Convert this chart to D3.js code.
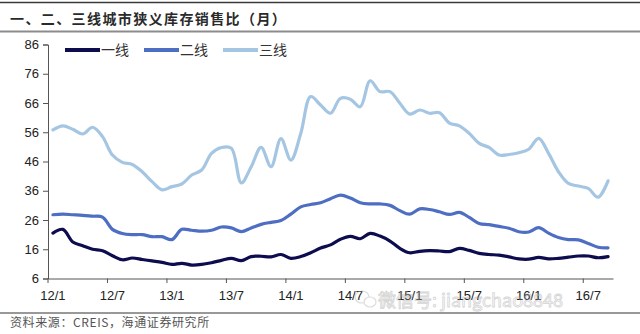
<!DOCTYPE html>
<html>
<head>
<meta charset="utf-8">
<script src="https://cdn.jsdelivr.net/npm/d3@7/dist/d3.min.js"></script>
<style>
  html, body { margin: 0; padding: 0; background: #fff; }
  svg { display: block; }
</style>
</head>
<body>
<svg id="chart" width="640" height="334"></svg>
<script>
const months = [
  "12/1","12/2","12/3","12/4","12/5","12/6","12/7","12/8","12/9","12/10","12/11","12/12",
  "13/1","13/2","13/3","13/4","13/5","13/6","13/7","13/8","13/9","13/10","13/11","13/12",
  "14/1","14/2","14/3","14/4","14/5","14/6","14/7","14/8","14/9","14/10","14/11","14/12",
  "15/1","15/2","15/3","15/4","15/5","15/6","15/7","15/8","15/9","15/10","15/11","15/12",
  "16/1","16/2","16/3","16/4","16/5","16/6","16/7","16/8","16/9"
];
const tier1 = [
  21.5,22.8,18.5,17.2,16.0,15.5,13.8,12.4,13.0,12.5,12.0,11.5,
  10.8,11.2,10.6,10.8,11.4,12.2,12.9,12.1,13.5,13.6,13.4,14.2,
  12.9,13.5,14.8,16.4,17.5,19.4,20.4,19.6,21.4,20.5,18.8,16.3,
  14.8,15.3,15.5,15.4,15.2,16.3,15.6,14.6,14.2,14.0,13.4,12.7,
  12.6,13.2,12.7,12.9,13.3,13.7,13.7,13.1,13.5
];
const tier2 = [
  27.8,28.0,27.8,27.6,27.3,27.0,22.8,21.4,21.0,21.0,20.3,20.3,
  19.3,22.8,22.5,22.2,22.5,23.6,23.3,22.0,23.3,24.5,25.2,25.8,
  28.0,30.5,31.3,31.9,33.3,34.5,33.5,31.9,31.5,31.5,31.0,29.2,
  28.0,29.8,29.6,28.8,27.9,28.6,26.9,24.8,24.4,23.8,23.2,22.0,
  21.9,23.4,21.5,20.0,19.3,19.2,18.0,16.7,16.5
];
const tier3 = [
  56.8,58.2,57.0,55.4,57.7,54.5,48.2,45.7,45.0,42.5,39.1,36.3,
  37.4,38.3,41.4,43.1,48.8,50.8,50.5,38.7,44.2,50.8,44.2,53.8,
  46.5,55.6,68.2,65.3,62.5,67.6,67.3,64.7,73.6,69.9,69.9,65.9,
  62.2,63.6,62.5,62.7,59.1,58.2,55.6,52.2,50.8,48.2,48.4,49.0,
  50.2,53.9,48.8,42.5,38.5,37.6,36.8,33.8,39.4
];
const tickLabels = ["12/1","12/7","13/1","13/7","14/1","14/7","15/1","15/7","16/1","16/7"];
const yTicks = [6,16,26,36,46,56,66,76,86];
const seriesNames = ["一线","二线","三线"];
const seriesColors = ["#0c0c4e","#4d6ec2","#a5c6e3"];

const svg = d3.select("#chart");
const font = "Arial, 'Liberation Sans', sans-serif";
const cjk = "'Noto Sans CJK SC', sans-serif";

// header rules and title
svg.append("line").attr("x1",0).attr("x2",640).attr("y1",2.5).attr("y2",2.5)
  .attr("stroke","#3a3a3a").attr("stroke-width",1.5);
svg.append("line").attr("x1",0).attr("x2",640).attr("y1",31.5).attr("y2",31.5)
  .attr("stroke","#8c8c8c").attr("stroke-width",2);
svg.append("text").attr("x",10).attr("y",24)
  .attr("font-family",cjk).attr("font-size",14).attr("font-weight","bold")
  .attr("letter-spacing",1.4).attr("fill","#2a2a2a")
  .text("一、二、三线城市狭义库存销售比（月）");

const x = d3.scaleBand().domain(months).range([48, 613]).padding(0);
const y = d3.scaleLinear().domain([6, 86]).range([278.5, 44.5]);
const cx = m => x(m) + x.bandwidth() / 2;

// y axis
const yAxis = svg.append("g").attr("transform","translate(48,0)")
  .call(d3.axisLeft(y).tickValues(yTicks).tickSize(5).tickPadding(4).tickFormat(d3.format("d")));
yAxis.select(".domain").attr("stroke","#555").attr("stroke-width",1);
yAxis.selectAll(".tick line").attr("stroke","#555");
yAxis.selectAll("text").attr("font-family",font).attr("font-size",13).attr("fill","#222");

// x axis
const xAxis = svg.append("g").attr("transform","translate(0,278.5)")
  .call(d3.axisBottom(x).tickValues(tickLabels).tickSize(0).tickPadding(0).tickFormat(() => ""));
xAxis.select(".domain").attr("stroke","#555").attr("stroke-width",1);
xAxis.selectAll(".tick line").remove();
xAxis.selectAll(".tick text").remove();
tickLabels.forEach(t => {
  svg.append("line").attr("x1",x(t)).attr("x2",x(t)).attr("y1",278.5).attr("y2",283)
    .attr("stroke","#555");
  svg.append("text").attr("x",cx(t)).attr("y",300).attr("text-anchor","middle")
    .attr("font-family",font).attr("font-size",13).attr("fill","#222").text(t);
});

// lines
const line = d3.line().x((d,i) => cx(months[i])).y(d => y(d)).curve(d3.curveCatmullRom.alpha(0.5));
[tier3, tier2, tier1].forEach((s, k) => {
  const idx = 2 - k;
  svg.append("path").datum(s).attr("d", line).attr("fill","none")
    .attr("stroke", seriesColors[idx]).attr("stroke-width", 3.2)
    .attr("stroke-linejoin","round").attr("stroke-linecap","round");
});

// legend
const legX = [65, 144, 223];
seriesNames.forEach((n, i) => {
  svg.append("line").attr("x1",legX[i]).attr("x2",legX[i]+35).attr("y1",50).attr("y2",50)
    .attr("stroke",seriesColors[i]).attr("stroke-width",4);
  svg.append("text").attr("x",legX[i]+36).attr("y",55)
    .attr("font-family",cjk).attr("font-size",14).attr("fill","#333").text(n);
});

// watermark
const wm = svg.append("g").attr("opacity",0.5);
wm.append("ellipse").attr("cx",362).attr("cy",297).attr("rx",7).attr("ry",6)
  .attr("fill","none").attr("stroke","#bbb").attr("stroke-width",1.2);
wm.append("ellipse").attr("cx",370).attr("cy",302).attr("rx",6).attr("ry",5)
  .attr("fill","#fff").attr("stroke","#bbb").attr("stroke-width",1.2);
wm.append("text").attr("x",378).attr("y",307).attr("font-family",cjk).attr("font-size",18)
  .attr("fill","none").attr("stroke","#aaa").attr("stroke-width",0.8).text("微信号: jiangchao8848");

// footer
svg.append("line").attr("x1",0).attr("x2",640).attr("y1",313).attr("y2",313)
  .attr("stroke","#333").attr("stroke-width",1);
svg.append("text").attr("x",10).attr("y",327)
  .attr("font-family",cjk).attr("font-size",12).attr("letter-spacing",0.6).attr("fill","#555")
  .text("资料来源：CREIS，海通证券研究所");
</script>
</body>
</html>
